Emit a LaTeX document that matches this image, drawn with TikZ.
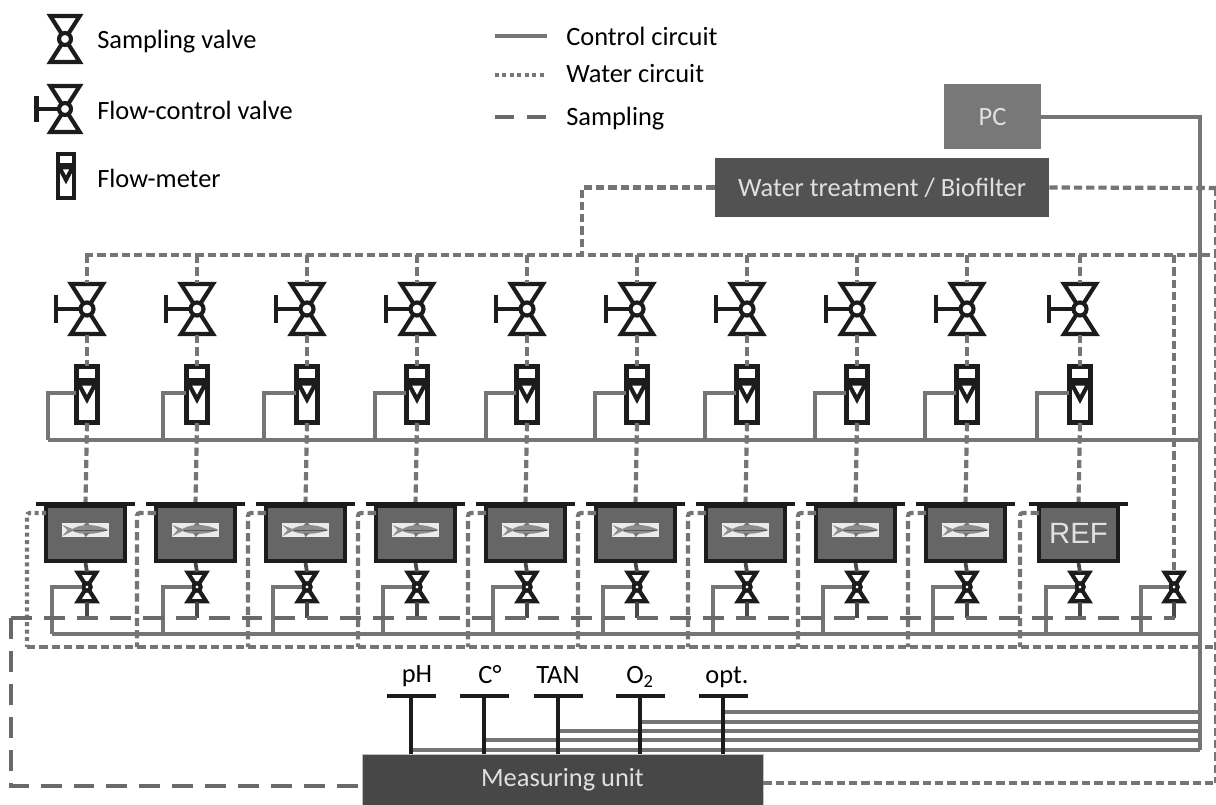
\documentclass[tikz,border=0pt]{standalone}
\usepackage{fontspec}
\setmainfont{Carlito}
\newfontfamily\reffont{Liberation Sans}
\usepackage{xcolor}
\usepackage{tikz}
\usetikzlibrary{positioning}
\def\u{.75pt}
\definecolor{linegray}{HTML}{757575}
\definecolor{symblack}{HTML}{1C1C1C}
\tikzset{
  sym/.style={draw=symblack, line width=3.1pt, line join=miter},
  ctrl/.style={draw=linegray, line width=2.9pt},
  water/.style={draw=linegray, line width=3.1pt, dash pattern=on 6.2pt off 3pt},
  waterfine/.style={draw=linegray, line width=3.1pt, dash pattern=on 3pt off 2.6pt},
  sampling/.style={draw=linegray!90!black, line width=3.1pt, dash pattern=on 15.7pt off 9pt},
  stem/.style={draw=symblack!80!white, line width=2.8pt},
  block/.style={inner sep=0pt, text=white!88!black, font=\fontsize{19.8}{22}\selectfont},
  tank/.style={sym, fill=black!60, inner sep=0pt, minimum width=79*\u, minimum height=55*\u},
  lbl/.style={inner sep=0pt, anchor=west, font=\fontsize{19.8}{22}\selectfont},
  sensorlbl/.style={inner sep=0pt, font=\fontsize{19.8}{22}\selectfont},
  sensor/.style={fill=symblack, inner sep=0pt, minimum width=49*\u, minimum height=4*\u},
  valve/.pic={
    \draw[sym, fill=white] (-16,-25) -- (16,-25) -- (0,0) -- cycle;
    \draw[sym, fill=white] (-16,25) -- (16,25) -- (0,0) -- cycle;
    \draw[sym, fill=white] (0,0) circle (6.5);
    \coordinate (-top) at (0,-26);
    \coordinate (-bot) at (0,26);
    \coordinate (-west) at (-8,0);
  },
  handle/.pic={
    \draw[sym] (0,0) -- (-31,0);
    \draw[sym] (-31,-14) -- (-31,14);
  },
  meter/.pic={
    \draw[sym, fill=white] (-10.5,-28) rectangle (10.5,28);
    \draw[sym] (-10.5,-14) -- (10.5,-14);
    \draw[sym, fill=white] (-8.5,-11) -- (8.5,-11) -- (0,5) -- cycle;
    \coordinate (-top) at (0,-28.5);
    \coordinate (-bot) at (0,28.5);
    \coordinate (-west) at (-11,-1.5);
  },
  fish/.pic={
    \fill[white!92!black] (-23.5,-7) rectangle (23.5,7);
    \fill[black!45] (-23,-5) -- (-13,-1) .. controls (-5,-6) and (9,-7) .. (23,0) .. controls (9,5) and (-5,5) .. (-13,1) -- (-23,6) -- (-18,0) -- cycle;
    \draw[black!65, line width=.6pt] (-12,0) -- (21,0);
    \fill[black!55] (-2,-5) -- (2,-8) -- (4,-5) -- cycle;
    \fill[black!55] (-2,3) -- (0,7) -- (4,3) -- cycle;
  }
}
\begin{document}
\begin{tikzpicture}[x=.75pt, y=-.75pt]
\useasboundingbox (0,0) rectangle (1216,805);
% legend
\pic (legsv) at (65,39) [scale=.92] {valve};
\pic at (65,109) [scale=.92] {handle};
\pic (legfv) at (65,109) [scale=.92] {valve};
\pic (legfm) at (66,176) [scale=.78] {meter};
\node[lbl] (legsvt) at (97,42) {Sampling valve};
\node[lbl] (legfvt) at (97,110) {Flow-control valve};
\node[lbl] (legfmt) at (97,178) {Flow-meter};
\node[lbl] (legct) at (566,36) {Control circuit};
\node[lbl] (legwt) at (566,74) {Water circuit};
\node[lbl] (legst) at (566,119) {Sampling};
\coordinate (legc) at (495,36);
\coordinate (legw) at (495,75);
\coordinate (legs) at (495,117);
\draw[ctrl] (legc) -- +(52,0);
\draw[waterfine] (legw) -- +(52,0);
\draw[sampling, dash pattern=on 14pt off 10pt] (legs) -- +(52,0);
% main blocks
\node[block, fill=black!53, minimum width=97*\u, minimum height=65*\u] (pc) at (992.5,117) {PC};
\node[block, fill=black!68, minimum width=334*\u, minimum height=59*\u] (treat) at (882,187.5) {Water treatment / Biofilter};
\node[block, fill=black!72, draw=black!25, minimum width=401*\u, minimum height=52*\u] (unit) at (562.5,780) {\raisebox{-2.5pt}{Measuring unit}};
% helper points
\coordinate (hubleft) at (85,255);
\coordinate (hubright) at (1216,255);
\coordinate (hubjoin) at (582,255);
\coordinate (treatright) at (1216,188);
\coordinate (rightbot) at (1215,783);
\coordinate (loopleft) at (27,647);
\coordinate (loopright) at (1216,647);
\coordinate (samplestart) at (11,618);
\coordinate (sampleend) at (1175,618);
\coordinate (samplecorner) at (11,786);
\coordinate (unitin) at (362,786);
\coordinate (mainleft) at (48,440);
\coordinate (busmeter) at (1200,440);
\coordinate (bussample) at (1200,634);
\coordinate (sampleleft) at (52,634);
\coordinate (busend) at (1200,750);
% water circuit
\draw[water] (treat.west) -| (hubjoin);
\draw[water] (hubleft) -- (hubright);
\draw[water] (treat.east) -- (treatright);
\draw[water, line width=1.2pt] (treatright) ++(-1,0) -- (rightbot);
\draw[water] (unit.east |- rightbot) -- (rightbot);
\draw[water] (loopleft) -- (loopright);
% columns
\foreach \i/\cx/\ms/\ss/\ls in {1/87/48/52/27,2/197/163/163/137,3/307/264/273/248,4/417/375/383/358,5/527/486/493/468,6/637/595/603/578,7/747/705/713/688,8/857/815/823/798,9/967/925/933/908,10/1080/1037/1046/1020}{
  \coordinate (hub\i) at (\cx,255);
  \coordinate (mstub\i) at (\ms,440);
  \coordinate (sstub\i) at (\ss,634);
  \coordinate (tankin\i) at (\cx-41,513);
  \coordinate (loop\i) at (\ls,647);
  \coordinate (tap\i) at (\cx,618);
  \pic at (\cx,309) {handle};
  \pic (fv\i) at (\cx,309) {valve};
  \pic (fm\i) at (\cx,394.5) {meter};
  \node[tank] (tank\i) at (\cx-1.5,533.5) {};
  \pic (sv\i) at (\cx,587) [scale=.57] {valve};
  \draw[water] (hub\i) -- (fv\i-top);
  \draw[water] (fv\i-bot) -- (fm\i-top);
  \draw[water] (fm\i-bot) -- (tank\i.north);
  \draw[ctrl] (fm\i-west) -| (mstub\i);
  \draw[ctrl] (sv\i-west) -| (sstub\i);
  \draw[stem] (tank\i.south) -- (sv\i-top);
  \draw[stem] (sv\i-bot) -- (tap\i);
  \draw[sym] ([xshift=-8*\u]tank\i.north west) -- ([xshift=8*\u]tank\i.north east);
}
\draw[waterfine, rounded corners=2pt] (tankin1) -| (loop1);
\foreach \i in {2,...,10}{
  \draw[water, rounded corners=2pt] (tankin\i) -| (loop\i);
}
\foreach \i in {1,...,9}{
  \pic at (tank\i.center) [yshift=3.5*\u] {fish};
}
\node[inner sep=0pt, text=white!88!black, font=\reffont\fontsize{22}{24}\selectfont] (reflbl) at (tank10.center) {REF};
% bypass branch on the right
\pic (svb) at (1174,587) [scale=.57] {valve};
\coordinate (hubb) at (1174,255);
\coordinate (tapb) at (1174,618);
\coordinate (sstubb) at (1141,634);
\draw[water] (hubb) -- (svb-top);
\draw[stem] (svb-bot) -- (tapb);
\draw[ctrl] (svb-west) -| (sstubb);
% control circuit
\draw[ctrl] (mainleft) -- (busmeter);
\draw[ctrl] (sampleleft) -- (bussample);
\draw[ctrl] (pc.east) -| (busend);
% sampling line
\draw[sampling] (samplestart) -- (sampleend);
\draw[sampling] (samplestart) -- (samplecorner) -- (unitin);
% sensors
\foreach \n/\x/\y/\lx/\ly/\t in {ph/411/750/417/676/pH,temp/484/740/490/675/C°,tan/558/731/558/675/TAN,oxy/640/722/640/677/O\textsubscript{2},opt/723/712/727/677/opt.}{
  \node[sensor] (\n) at (\x,696) {};
  \node[sensorlbl] (\n lbl) at (\lx,\ly) {\t};
  \coordinate (tap\n) at (\x,\y);
  \draw[ctrl, line width=2.6pt] (tap\n) -- (tap\n -| busend);
  \draw[stem, draw=symblack] (\n) -- (\n |- unit.north);
}
\end{tikzpicture}
\end{document}
